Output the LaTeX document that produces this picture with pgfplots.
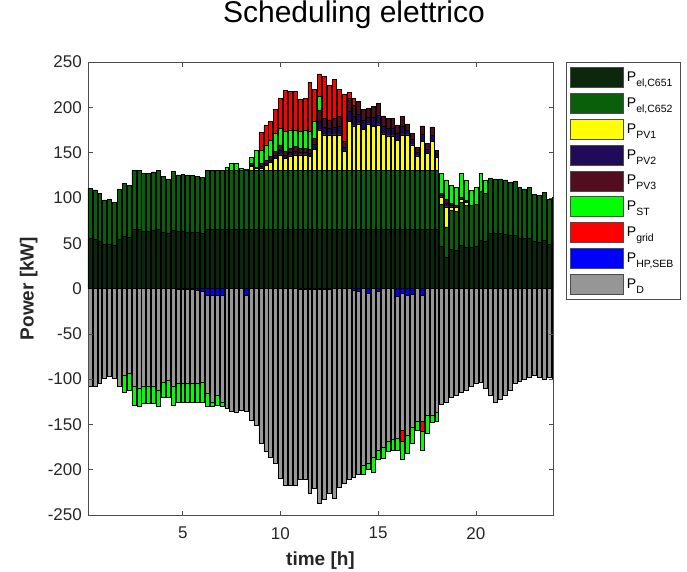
\documentclass[border=0pt]{standalone}
\usepackage{fontspec}
\setmainfont{Liberation Sans}
\usepackage{pgfplots}
\usepackage{pgfplotstable}
\pgfplotsset{compat=1.18}

\definecolor{cA}{RGB}{12,40,12}
\definecolor{cB}{RGB}{10,96,10}
\definecolor{cPVa}{RGB}{255,255,0}
\definecolor{cPVb}{RGB}{32,10,90}
\definecolor{cPVc}{RGB}{82,14,30}
\definecolor{cST}{RGB}{0,255,0}
\definecolor{cGrid}{RGB}{255,0,0}
\definecolor{cHP}{RGB}{0,0,255}
\definecolor{cD}{RGB}{150,150,150}

\newcommand{\subs}[1]{\raisebox{-5pt}{\fontsize{10.5}{10.5}\selectfont #1}}

% t c1 c2 pv1 pv2 pv3 st grid | hp d gridn stn  (kW, 15 min steps)
\pgfplotstableread{
t c1 c2 pv1 pv2 pv3 st grid hp d gn sn
0.25 55.3 55.3 0 0 0 0 0 0 -108.4 0 0
0.50 54.4 54.4 0 0 0 0 0 0 -108.4 0 0
0.75 52.5 52.5 0 0 0 0 0 0 -104.8 0 0
1.00 48.9 48.9 0 0 0 0 0 0 -99.3 0 0
1.25 49.2 49.2 0 0 0 0 0 0 -96.7 0 0
1.50 47.4 47.4 0 0 0 0 0 0 -99.3 0 0
1.75 54.8 54.8 0 0 0 0 0 0 -108.4 0 0
2.00 58.0 58.0 0 0 0 0 0 0 -95.6 0 -18.4
2.25 57.0 57.0 0 0 0 0 0 0 -93.7 0 -18.4
2.50 65.0 65.0 0 0 0 0 0 0 -108.4 0 -20.2
2.75 65.0 65.0 0 0 0 0 0 0 -110.2 0 -19.5
3.00 63.5 63.5 0 0 0 0 0 0 -108.4 0 -18.4
3.25 63.5 63.5 0 0 0 0 0 0 -108.4 0 -18.4
3.50 64.3 64.3 0 0 0 0 0 0 -108.4 0 -18.4
3.75 65.0 65.0 0 0 0 0 0 0 -112.1 0 -17.6
4.00 61.7 61.7 0 0 0 0 0 0 -104.0 0 -15.5
4.25 60.5 60.5 0 0 0 0 0 0 -101.1 0 -18.4
4.50 64.7 64.7 0 0 0 0 0 0 -108.4 0 -20.2
4.75 62.7 62.7 0 0 0 0 0 -1 -103.8 0 -20.2
5.00 62.8 62.8 0 0 0 0 0 -1 -103.8 0 -20.2
5.25 62.5 62.5 0 0 0 0 0 -1 -103.8 0 -20.2
5.50 62.3 62.3 0 0 0 0 0 -1 -103.8 0 -20.2
5.75 61.7 61.7 0 0 0 0 0 -1.5 -103.3 0 -20.2
6.00 61.2 61.2 0 0 0 0 0 -3 -100.0 0 -22
6.25 65 65 0 0 0 0 0 -7 -108.8 0 -13.9
6.50 65 65 0 0 0 0 0 -7 -118.0 0 -4.7
6.75 65 65 0 0 0 0 0 -7 -110.6 0 -11
7.00 65 65 0 0 0 0 0 -7 -118.0 0 -4.7
7.25 65 65 0 0 0 4 0 0 -132.3 0 0
7.50 65 65 0 0 0 8 0 0 -136.0 0 0
7.75 65 65 0 0 0 8 0 0 -137.1 0 0
8.00 65 65 0 0 0 3 0 0 -134.1 0 0
8.25 65 65 1 0 0 1 0 -7 -129.0 0 0
8.50 65 65 4.4 1.7 2 6.7 0 0 -145.2 0 0
8.75 65 65 3 0.5 0.5 18.9 0 0 -150.7 0 0
9.00 65 65 3 2.3 2.8 14.8 19.2 0 -171 0 0
9.25 65 65 6.3 2.5 3 16.6 22.1 0 -180 0 0
9.50 65 65 8.9 3 3.6 18.4 20.3 0 -186 0 0
9.75 65 65 13.7 3.3 4 20.3 26.5 0 -193 0 0
10.00 65 65 17.4 5 6 18.5 33 0 -209 0 0
10.25 65 65 13.7 3.3 4 22.2 45.1 0 -217 0 0
10.50 65 65 16.3 3.8 4.6 20.3 42.2 0 -217 0 0
10.75 65 65 17.4 4.1 5.1 18.4 42.2 0 -217 0 0
11.00 65 65 17.4 3.3 4 18.5 35.6 -1 -209 0 0
11.25 65 65 17.4 3.3 4 20.3 34.9 -1 -210 0 0
11.50 65 65 15.5 3.6 4.5 19.6 54 -1 -225 0 0
11.75 65 65 23.6 5.5 6.7 18.4 35.6 -1 -220 0 0
12.00 65 65 45 10 12.1 14.7 25 -1 -236 0 0
12.25 65 65 39.5 8.3 10.1 0 46.6 -1 -232 0 0
12.50 65 65 39.5 7.5 9.1 0 38.5 -1 -225 0 0
12.75 65 65 39.5 8.3 10.1 0 43 0 -232 0 0
13.00 65 65 39.5 9.1 11.1 0 30.1 0 -219 0 0
13.25 65 65 21 5 6.1 0 52.5 0 -215 0 0
13.50 65 65 54.2 11.6 14.1 0 6.2 0 -211 0 0
13.75 65 65 49.4 10.4 12.8 0 7.3 -2 -206 0 0
14.00 65 65 51.6 11 13.6 0 0 -3.5 -201 0 0
14.25 65 65 45.8 10 12 0 0 0 -195 0 -10
14.50 65 65 51.6 7.8 9.5 0 0 -5 -188 0 -7
14.75 65 65 48.7 10 12 0 0 0 -186 0 -17
15.00 65 65 50.5 10.8 13.1 0 0 -3 -175 0 -11
15.25 65 65 40.6 9 10.9 0 0 0 -175 0 -12
15.50 65 65 38.4 8.8 10.7 0 0 0 -169 0 -11
15.75 65 65 38.4 8.8 10.7 0 0 0 -166 0 -12
16.00 65 65 33.2 7.8 9.5 0 0 -8 -157 0 -14
16.25 65 65 39.5 9.1 11.1 0 0 -5 -151 -13 -20
16.50 65 65 39.5 5.4 6.7 0 0 -7 -155 0 -20
16.75 65 65 28.4 5.8 7.1 0 0 -6 -147 0 -18
17.00 65 65 16.3 4.3 5.2 0 0 0 -147 0 -10
17.25 65 65 32.1 7.8 9.5 0 0 -7 -140 -11 -20
17.50 65 65 19.2 5 6.1 0 0 0 -140 0 -20
17.75 65 65 32.1 7.3 8.9 0 0 0 -140 0 -8
18.00 65 65 14.8 3.3 4.1 0 0 0 -137 0 -10
18.25 46.5 46.5 8 2 2 22 0 0 -128 0 0
18.50 34 34 22 4 4 22 0 0 -125 0 0
18.75 43 43 4 2 2 20 0 0 -120 0 0
19.00 42.5 42.5 5 1 1 20 0 0 -118 0 0
19.25 47.5 47.5 4 1 1 26 0 0 -115 0 0
19.50 46 46 3 1 1 22 0 0 -112 0 0
19.75 46 46 0 0 0 16 0 0 -108 0 0
20.00 46.5 46.5 0 0 0 19 0 0 -105 0 0
20.25 53.5 53.5 0 0 0 20 0 0 -104 0 0
20.50 52.5 52.5 0 0 0 15 0 0 -110 0 0
20.75 61 61 0 0 0 0 0 0 -118 0 0
21.00 60.5 60.5 0 0 0 0 0 0 -125 0 0
21.25 60.5 60.5 0 0 0 0 0 0 -122 0 0
21.50 60 60 0 0 0 0 0 0 -118 0 0
21.75 58.5 58.5 0 0 0 0 0 0 -112 0 0
22.00 59 59 0 0 0 0 0 0 -105 0 0
22.25 56 56 0 0 0 0 0 0 -102 0 0
22.50 55 55 0 0 0 0 0 0 -100 0 0
22.75 56 56 0 0 0 0 0 0 -98 0 0
23.00 52 52 0 0 0 0 0 0 -96 0 0
23.25 51.5 51.5 0 0 0 0 0 0 -98 0 0
23.50 53 53 0 0 0 0 0 0 -100 0 0
23.75 49 49 0 0 0 0 0 0 -98 0 0
24.00 50.5 50.5 0 0 0 0 0 0 -100 0 0
}\sched

\pgfplotsset{
  base/.style={
    width=465pt, height=453pt, scale only axis,
    at={(0,0)}, anchor=south west,
    xmin=0.15, xmax=23.95, ymin=-250, ymax=250,
    ybar stacked, bar width=0.2,
  },
  seg/.style={fill=#1, draw=black, line width=0.5pt},
}

\begin{document}
\begin{tikzpicture}
% negative stack
\begin{axis}[base, hide axis]
  \addplot[seg=cHP]   table[x=t, y=hp]{\sched};
  \addplot[seg=cD]    table[x=t, y=d]{\sched};
  \addplot[seg=cGrid] table[x=t, y=gn]{\sched};
  \addplot[seg=cST]   table[x=t, y=sn]{\sched};
\end{axis}
% positive stack with axes and legend
\begin{axis}[base,
  axis line style={black!70, line width=0.6pt},
  tick style={black!70, line width=0.6pt},
  major tick length=4.5pt,
  tick align=inside,
  xtick={5,10,15,20},
  xticklabels={5,10,15,20},
  ytick={-250,-200,-150,-100,-50,0,50,100,150,200,250},
  yticklabels={-250,-200,-150,-100,-50,0,50,100,150,200,250},
  ticklabel style={font=\fontsize{17}{17}\selectfont, text=black!85},
  yticklabel style={inner sep=0pt, xshift=-6pt},
  xticklabel style={inner sep=0pt, yshift=-12pt},
  xlabel={time [h]},
  ylabel={Power [kW]},
  xlabel style={at={(axis description cs:0.5,0)}, anchor=north, inner sep=0pt, yshift=-37pt,
    font=\fontsize{19}{19}\selectfont\bfseries, text=black!85},
  ylabel style={at={(axis description cs:-0.108,0.5)}, anchor=south, inner sep=0pt,
    font=\fontsize{19}{19}\selectfont\bfseries, text=black!85},
  title={Scheduling elettrico},
  title style={at={(axis description cs:0.572,1.073)}, anchor=base, inner sep=0pt,
    font=\fontsize{30}{30}\selectfont},
  legend image code/.code={\draw[#1, line width=0.6pt] (0pt,-10pt) rectangle (53pt,10pt);},
  legend cell align=left,
  legend style={at={(axis description cs:1.028,1)}, anchor=north west,
    draw=black!70, line width=0.6pt, fill=white, inner xsep=4pt, inner ysep=5pt,
    font=\fontsize{14}{14}\selectfont, row sep=5.2pt,
    nodes={inner sep=3pt}},
]
  \addlegendimage{fill=cA, draw=black!70}
  \addlegendimage{fill=cB, draw=black!70}
  \addlegendimage{fill=cPVa, draw=black!70}
  \addlegendimage{fill=cPVb, draw=black!70}
  \addlegendimage{fill=cPVc, draw=black!70}
  \addlegendimage{fill=cST, draw=black!70}
  \addlegendimage{fill=cGrid, draw=black!70}
  \addlegendimage{fill=cHP, draw=black!70}
  \addlegendimage{fill=cD, draw=black!70}
  \addplot[seg=cA]    table[x=t, y=c1]{\sched};
  \addplot[seg=cB]    table[x=t, y=c2]{\sched};
  \addplot[seg=cPVa]  table[x=t, y=pv1]{\sched};
  \addplot[seg=cPVb]  table[x=t, y=pv2]{\sched};
  \addplot[seg=cPVc]  table[x=t, y=pv3]{\sched};
  \addplot[seg=cST]   table[x=t, y=st]{\sched};
  \addplot[seg=cGrid] table[x=t, y=grid]{\sched};
  \legend{P\subs{el,C651}, P\subs{el,C652}, P\subs{PV1}, P\subs{PV2}, P\subs{PV3},
    P\subs{ST}, P\subs{grid}, P\subs{HP,SEB}, P\subs{D}}
\end{axis}
\pgfresetboundingbox
\path[use as bounding box] (-88pt,-56pt) rectangle (599pt,515pt);
\end{tikzpicture}
\end{document}
